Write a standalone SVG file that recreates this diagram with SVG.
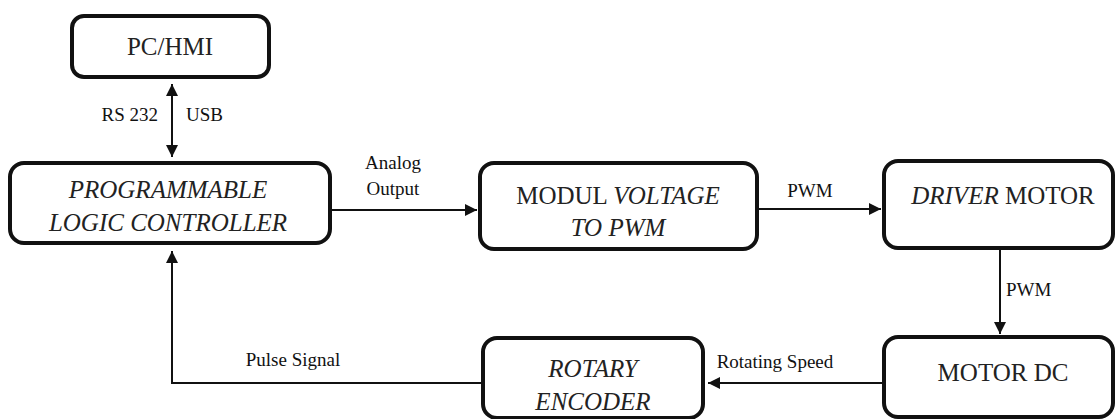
<svg xmlns="http://www.w3.org/2000/svg" width="1120" height="419" viewBox="0 0 1120 419" font-family="Liberation Serif, Times New Roman, DejaVu Serif, serif">
<style>
.box{fill:#fff;stroke:#111;stroke-width:4}
.t{font-size:25px;fill:#222;text-anchor:middle}
.l{font-size:19px;fill:#111}
.i{font-style:italic}
.c{fill:none;stroke:#111;stroke-width:2}
</style>
<defs>
<marker id="ah" viewBox="0 0 10 10" refX="10" refY="5" markerWidth="6" markerHeight="6" orient="auto-start-reverse" markerUnits="strokeWidth">
<path d="M0,0 L10,5 L0,10 z" fill="#111"/>
</marker>
</defs>
<rect width="1120" height="419" fill="#fff"/>
<g id="connectors">
<line class="c" x1="172" y1="84" x2="172" y2="157" marker-start="url(#ah)" marker-end="url(#ah)"/>
<line class="c" x1="330" y1="210" x2="477" y2="210" marker-end="url(#ah)"/>
<line class="c" x1="757" y1="209" x2="881" y2="209" marker-end="url(#ah)"/>
<line class="c" x1="1000" y1="250" x2="1000" y2="334" marker-end="url(#ah)"/>
<line class="c" x1="884" y1="383" x2="708" y2="383" marker-end="url(#ah)"/>
<polyline class="c" points="483,383 172,383 172,251" marker-end="url(#ah)"/>
<text class="l" font-family="Liberation Serif" x="158" y="121" text-anchor="end">RS 232</text>
<text class="l" font-family="Liberation Serif" x="186" y="121">USB</text>
<text class="l" font-family="Liberation Serif" x="393" y="169" text-anchor="middle">Analog</text>
<text class="l" font-family="Liberation Serif" x="393" y="195" text-anchor="middle">Output</text>
<text class="l" font-family="Liberation Serif" x="810" y="197" text-anchor="middle">PWM</text>
<text class="l" font-family="Liberation Serif" x="1006" y="296">PWM</text>
<text class="l" font-family="Liberation Serif" x="775" y="368" text-anchor="middle">Rotating Speed</text>
<text class="l" font-family="Liberation Serif" x="293" y="366" text-anchor="middle">Pulse Signal</text>
</g>
<g id="pc" font-family="Liberation Serif">
<rect class="box" x="72" y="16" width="197" height="61" rx="12"/>
<text class="t" x="170" y="55">PC/HMI</text>
</g>
<g id="plc" font-family="Liberation Serif">
<rect class="box" x="10" y="163" width="320" height="80" rx="14"/>
<text class="t i" x="168" y="198">PROGRAMMABLE</text>
<text class="t i" x="168" y="231">LOGIC CONTROLLER</text>
</g>
<g id="modul" font-family="Liberation Serif">
<rect class="box" x="480" y="163" width="277" height="86" rx="14"/>
<text class="t" x="618" y="204">MODUL <tspan class="i">VOLTAGE</tspan></text>
<text class="t i" x="618" y="236">TO PWM</text>
</g>
<g id="driver" font-family="Liberation Serif">
<rect class="box" x="884" y="161" width="229" height="87" rx="14"/>
<text class="t" x="1003" y="204"><tspan class="i">DRIVER</tspan> MOTOR</text>
</g>
<g id="motor" font-family="Liberation Serif">
<rect class="box" x="884" y="337" width="229" height="80" rx="14"/>
<text class="t" x="1003" y="381">MOTOR DC</text>
</g>
<g id="encoder" font-family="Liberation Serif">
<rect class="box" x="483" y="338" width="220" height="80" rx="14"/>
<text class="t i" x="593" y="377">ROTARY</text>
<text class="t i" x="593" y="410">ENCODER</text>
</g>
</svg>
